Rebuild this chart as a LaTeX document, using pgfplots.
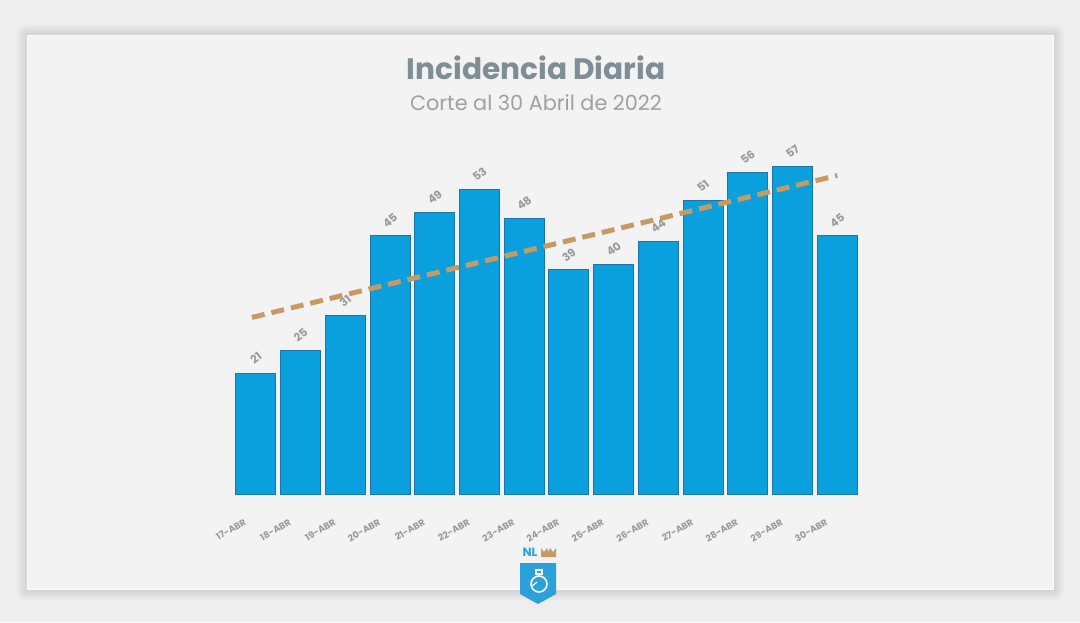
\documentclass[border=0pt]{standalone}
\usepackage{pgfplots}
\pgfplotsset{compat=1.18}
\usepackage{fontspec}
\setmainfont{Poppins}

\definecolor{outerbg}{HTML}{EEEEEE}
\definecolor{panelbg}{HTML}{F3F3F3}
\definecolor{titlecol}{HTML}{7F8D96}
\definecolor{subcol}{HTML}{A0A0A0}
\definecolor{labelcol}{HTML}{9A9A9A}
\definecolor{barfill}{HTML}{0AA0DD}
\definecolor{baredge}{HTML}{1C74AA}
\definecolor{trendcol}{HTML}{C89A63}
\definecolor{shieldcol}{HTML}{2CA0DA}

\begin{document}
\begin{tikzpicture}
  % page and panel with a soft shadow
  \fill[outerbg] (0,0) rectangle (540pt,311pt);
  \foreach \i in {5,4,3,2,1}{
    \fill[black,opacity=0.018,rounded corners=\i pt]
      (13.5pt-\i pt,16pt-\i pt) rectangle (527pt+\i pt,293.5pt+\i pt);
  }
  \fill[white!70!panelbg] (13.5pt,16pt) rectangle (527pt,293.5pt);
  \fill[panelbg] (14.2pt,16.7pt) rectangle (526.3pt,292.8pt);

  % titles
  \node[text=titlecol,font=\bfseries\fontsize{14.8}{17}\selectfont] at (268pt,277pt) {Incidencia Diaria};
  \node[text=subcol,font=\fontsize{10.4}{12}\selectfont] at (268pt,259.5pt) {Corte al 30 Abril de 2022};

  \begin{axis}[
    at={(116.8pt,64pt)}, anchor=south west,
    scale only axis, width=313pt, height=172.5pt,
    xmin=-0.5, xmax=13.5, ymin=0, ymax=60,
    axis line style={draw=none}, tick style={draw=none},
    ytick=\empty,
    xtick=data,
    xticklabels={17-ABR,18-ABR,19-ABR,20-ABR,21-ABR,22-ABR,23-ABR,24-ABR,25-ABR,26-ABR,27-ABR,28-ABR,29-ABR,30-ABR},
    xticklabel style={rotate=30, anchor=north east, xshift=-8pt, yshift=-4pt,
      text=labelcol, font=\bfseries\fontsize{4.6}{5}\selectfont},
    /pgf/number format/assume math mode=true,
    clip=false,
  ]
    \addplot[ybar, bar width=20pt, fill=barfill, draw=baredge, line width=0.5pt,
      nodes near coords,
      nodes near coords style={anchor=center, yshift=7.5pt, rotate=38,
        text=labelcol, font=\bfseries\fontsize{5.6}{6}\selectfont}]
      coordinates {(0,21) (1,25) (2,31) (3,45) (4,49) (5,53) (6,48)
                   (7,39) (8,40) (9,44) (10,51) (11,56) (12,57) (13,45)};
    % linear trend of the daily counts
    \addplot[trendcol, line width=2.5pt, dash pattern=on 6.5pt off 3.5pt]
      coordinates {(-0.09,30.71) (13.0,55.40)};
  \end{axis}

  % emblem
  \fill[shieldcol] (260pt,29.5pt) -- (278pt,29.5pt) -- (278pt,14pt) -- (269pt,9pt) -- (260pt,14pt) -- cycle;
  \draw[white,line width=0.8pt] (269.5pt,19pt) circle (4pt);
  \draw[white,line width=0.7pt] (268pt,24pt) rectangle (271pt,26pt);
  \draw[white,line width=0.6pt] (266pt,18pt) -- (268.5pt,20pt);
  \node[text=shieldcol,font=\bfseries\fontsize{6}{7}\selectfont,inner sep=0pt] at (265pt,35pt) {NL};
  \fill[trendcol] (270.5pt,32.5pt) -- (278pt,32.5pt) -- (278pt,37pt) -- (276.5pt,35pt) -- (275pt,37pt) -- (274.2pt,35pt) -- (273.5pt,37pt) -- (272pt,35pt) -- (270.5pt,37pt) -- cycle;
\end{tikzpicture}
\end{document}
